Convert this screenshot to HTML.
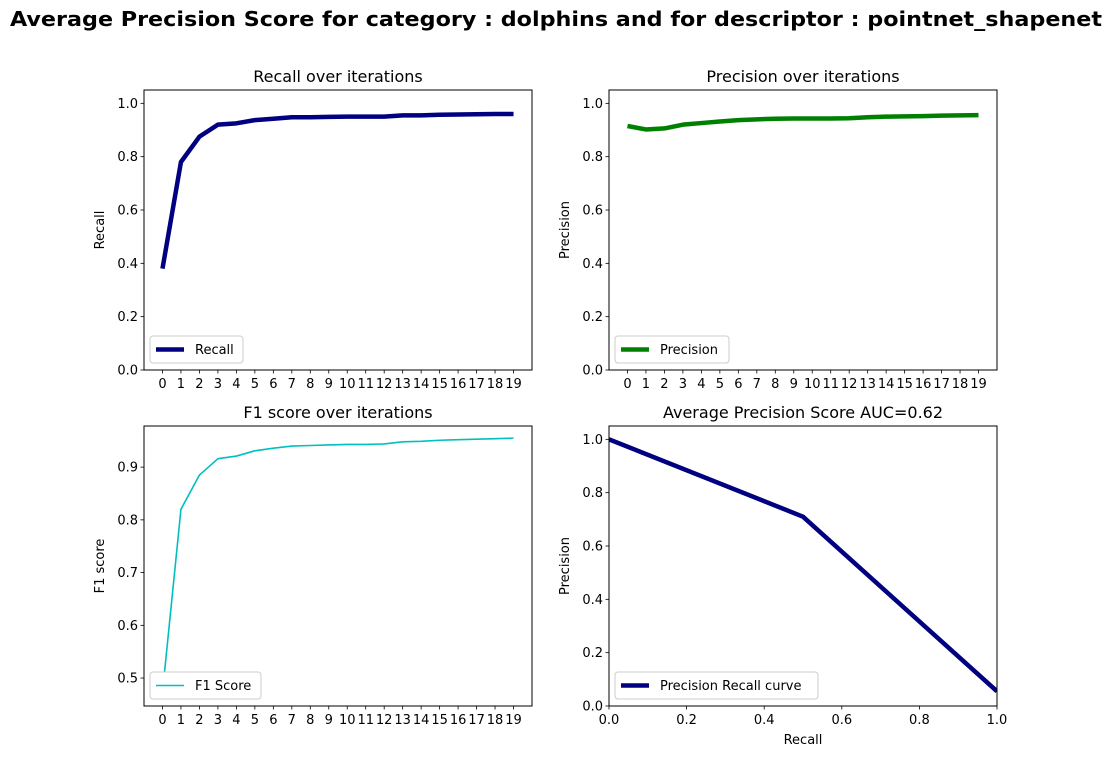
<!DOCTYPE html>
<html><head><meta charset="utf-8"><style>
body{margin:0;background:#fff;}
svg{display:block;font-family:"DejaVu Sans","Liberation Sans",sans-serif;}
</style></head><body>
<svg id="fig" width="1113" height="759">
<text x="556" y="26" text-anchor="middle" font-size="20" font-weight="bold" textLength="1092" lengthAdjust="spacingAndGlyphs">Average Precision Score for category : dolphins and for descriptor : pointnet_shapenet</text>
</svg>
<script>
const iterations=[0,1,2,3,4,5,6,7,8,9,10,11,12,13,14,15,16,17,18,19];
const recallVals=[0.38,0.78,0.875,0.92,0.925,0.937,0.942,0.948,0.948,0.949,0.95,0.95,0.95,0.955,0.955,0.957,0.958,0.959,0.96,0.96];
const precisionVals=[0.915,0.902,0.906,0.92,0.926,0.932,0.937,0.94,0.942,0.943,0.943,0.943,0.944,0.948,0.95,0.951,0.952,0.954,0.955,0.956];
const f1Vals=[0.473,0.82,0.885,0.916,0.921,0.931,0.936,0.94,0.941,0.942,0.943,0.943,0.944,0.948,0.949,0.951,0.952,0.953,0.954,0.955];
const prRecall=[0,0.5,1];
const prPrecision=[1,0.71,0.055];
const yTicks01=[0,0.2,0.4,0.6,0.8,1.0];
const yTicksF1=[0.5,0.6,0.7,0.8,0.9];
const xTicksPR=[0,0.2,0.4,0.6,0.8,1.0];

const NS="http://www.w3.org/2000/svg";
const svg=document.getElementById('fig');
function mk(tag,attrs,parent){const e=document.createElementNS(NS,tag);for(const k in attrs)e.setAttribute(k,attrs[k]);(parent||svg).appendChild(e);return e;}

function panel(o){
  const g=mk('g',{});
  
  
  const {x0,x1,y0,y1,xmin,xmax,ymin,ymax}=o;
  const sx=v=>x0+(v-xmin)/(xmax-xmin)*(x1-x0);
  const sy=v=>y1-(v-ymin)/(ymax-ymin)*(y1-y0);
  o.yticks.forEach(t=>{
    mk('line',{x1:x0-3.5,x2:x0,y1:sy(t),y2:sy(t),stroke:'#000','stroke-width':0.8},g);
    const tx=mk('text',{x:x0-6,y:sy(t)+4.5,'text-anchor':'end','font-size':13},g);
    tx.textContent=o.yfmt(t);
    
    
  });
  o.xticks.forEach(t=>{
    mk('line',{x1:sx(t),x2:sx(t),y1:y1,y2:y1+3.5,stroke:'#000','stroke-width':0.8},g);
    const tx=mk('text',{x:sx(t),y:y1+18,'text-anchor':'middle','font-size':13},g);
    tx.textContent=o.xfmt(t);
    
    
  });
  const pts=o.xs.map((x,i)=>sx(x).toFixed(2)+','+sy(o.ys[i]).toFixed(2)).join(' ');
  const cp=mk('clipPath',{id:'c'+o.name},g);
  mk('rect',{x:x0,y:y0,width:x1-x0,height:y1-y0},cp);
  const pl=mk('polyline',{points:pts,fill:'none',stroke:o.color,'stroke-width':o.lw,'stroke-linejoin':'round','clip-path':'url(#c'+o.name+')'},g);
  
  
  mk('rect',{x:x0,y:y0,width:x1-x0,height:y1-y0,fill:'none',stroke:'#000','stroke-width':1},g);
  const ti=mk('text',{x:(x0+x1)/2,y:y0-8,'text-anchor':'middle','font-size':16},g);
  ti.textContent=o.title;
  
  
  const yl=mk('text',{x:0,y:0,'text-anchor':'middle','font-size':13,transform:`translate(${x0-40},${(y0+y1)/2}) rotate(-90)`},g);
  yl.textContent=o.ylabel;
  
  
  if(o.xlabel){
    const xl=mk('text',{x:(x0+x1)/2,y:y1+38,'text-anchor':'middle','font-size':13},g);
    xl.textContent=o.xlabel;
    
    
  }
  const lg=mk('g',{},g);
  
  
  mk('rect',{x:x0+6,y:y1-34,width:o.legW,height:27,rx:3,fill:'#fff',stroke:'#ccc','stroke-width':1},lg);
  mk('line',{x1:x0+12,x2:x0+40,y1:y1-20.5,y2:y1-20.5,stroke:o.color,'stroke-width':o.lw},lg);
  const lt=mk('text',{x:x0+51,y:y1-16,'font-size':13},lg);
  lt.textContent=o.legend;
  
  
}
const f1=v=>v.toFixed(1);
const fi=v=>String(v);
panel({name:'recall-panel',x0:144,x1:532,y0:90,y1:370,xmin:-1,xmax:20,ymin:0,ymax:1.05,xs:iterations,ys:recallVals,color:'#000080',lw:4.5,title:'Recall over iterations',ylabel:'Recall',yticks:yTicks01,xticks:iterations,yfmt:f1,xfmt:fi,legend:'Recall',legW:93});
panel({name:'precision-panel',x0:609,x1:997,y0:90,y1:370,xmin:-1,xmax:20,ymin:0,ymax:1.05,xs:iterations,ys:precisionVals,color:'#008000',lw:4.5,title:'Precision over iterations',ylabel:'Precision',yticks:yTicks01,xticks:iterations,yfmt:f1,xfmt:fi,legend:'Precision',legW:114});
panel({name:'f1-panel',x0:144,x1:532,y0:426,y1:706,xmin:-1,xmax:20,ymin:0.447,ymax:0.978,xs:iterations,ys:f1Vals,color:'#00bfbf',lw:1.6,title:'F1 score over iterations',ylabel:'F1 score',yticks:yTicksF1,xticks:iterations,yfmt:f1,xfmt:fi,legend:'F1 Score',legW:111});
panel({name:'pr-panel',x0:609,x1:997,y0:426,y1:706,xmin:0,xmax:1,ymin:0,ymax:1.05,xs:prRecall,ys:prPrecision,color:'#000080',lw:4.5,title:'Average Precision Score AUC=0.62',ylabel:'Precision',xlabel:'Recall',yticks:yTicks01,xticks:xTicksPR,yfmt:f1,xfmt:f1,legend:'Precision Recall curve',legW:203});
</script>
</body></html>
